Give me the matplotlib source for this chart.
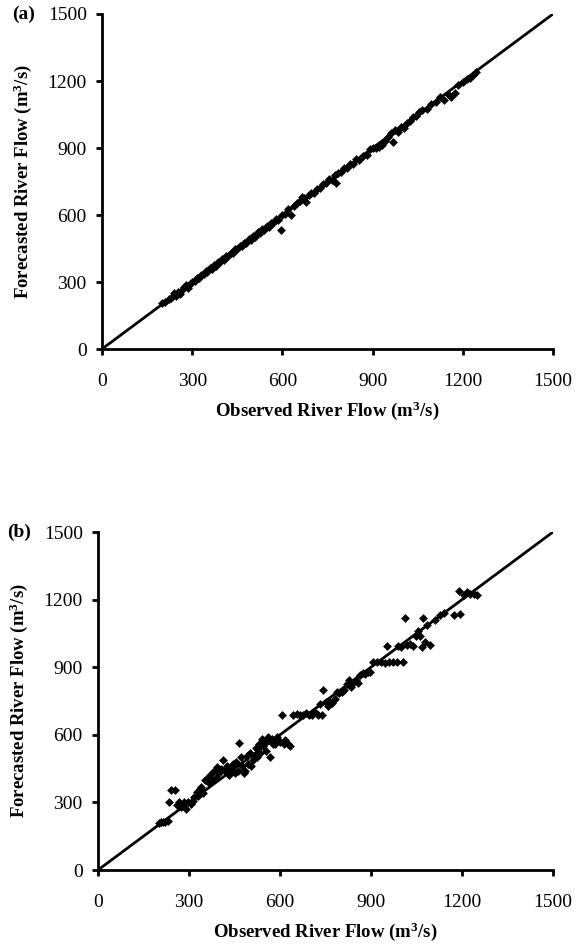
import matplotlib
matplotlib.use("Agg")
import matplotlib.pyplot as plt

plt.rcParams['font.family'] = ['Liberation Serif', 'DejaVu Serif']
plt.rcParams['mathtext.fontset'] = 'custom'
plt.rcParams['mathtext.rm'] = 'Liberation Serif'
plt.rcParams['mathtext.bf'] = 'Liberation Serif:bold'
plt.rcParams['mathtext.default'] = 'bf'

# panel (a): observed vs forecasted river flow (m3/s)
obs_a = [200, 210, 222, 230, 240, 245, 252, 258, 265, 272, 280, 285, 292, 300, 308, 315,
         322, 330, 338, 345, 350, 358, 365, 372, 378, 385, 392, 400, 405, 412, 420, 428,
         435, 442, 450, 458, 465, 472, 480, 488, 495, 502, 510, 518, 525, 532, 540, 548,
         555, 562, 570, 578, 585, 596, 600, 610, 620, 630, 640, 650, 660, 665, 672, 680,
         688, 695, 705, 715, 725, 735, 745, 755, 765, 775, 779, 785, 795, 805, 815, 825,
         835, 845, 855, 868, 880, 890, 900, 910, 920, 930, 940, 950, 960, 967, 975, 985,
         995, 1005, 1015, 1025, 1035, 1045, 1055, 1065, 1080, 1095, 1110, 1125, 1139, 1150,
         1162, 1175, 1185, 1200, 1215, 1225, 1234, 1245]
fc_a = [205, 212, 225, 228, 250, 238, 255, 245, 262, 278, 285, 272, 290, 298, 305, 318,
        320, 332, 335, 350, 346, 362, 360, 378, 372, 390, 388, 405, 398, 415, 418, 432,
        430, 446, 447, 460, 462, 476, 474, 492, 490, 505, 503, 522, 520, 536, 532, 552,
        548, 565, 564, 582, 578, 534, 602, 606, 625, 600, 640, 655, 662, 680, 675, 660,
        690, 698, 700, 718, 722, 740, 742, 760, 758, 780, 742, 788, 792, 810, 812, 830,
        828, 850, 848, 865, 870, 895, 902, 898, 905, 915, 932, 948, 965, 929, 980, 972,
        995, 990, 1012, 1020, 1040, 1042, 1060, 1068, 1075, 1098, 1105, 1128, 1115, 1140,
        1130, 1145, 1180, 1195, 1210, 1215, 1227, 1242]

# panel (b)
obs_b = [200, 208, 215, 222, 230, 234, 242, 253, 262, 268, 275, 282, 290, 298, 305, 312,
         318, 325, 330, 335, 340, 347, 352, 358, 365, 370, 375, 382, 388, 393, 398, 405,
         413, 418, 425, 432, 438, 445, 450, 455, 460, 464, 470, 475, 480, 485, 490, 495,
         500, 505, 510, 515, 520, 525, 530, 535, 540, 545, 550, 555, 560, 567, 572, 578,
         585, 590, 595, 600, 608, 612, 618, 625, 633, 644, 655, 665, 675, 685, 695, 705,
         715, 725, 732, 738, 743, 750, 758, 765, 772, 780, 787, 795, 805, 812, 820, 828,
         835, 842, 850, 858, 864, 872, 880, 890, 897, 908, 920, 932, 945, 952, 960, 972,
         985, 990, 1000, 1007, 1012, 1018, 1028, 1040, 1048, 1056, 1062, 1068, 1071, 1078,
         1084, 1095, 1110, 1128, 1140, 1175, 1194, 1191, 1205, 1216, 1228, 1240, 1249]
fc_b = [210, 212, 215, 212, 218, 303, 355, 355, 290, 300, 280, 300, 270, 300, 295, 305,
        325, 345, 330, 360, 370, 340, 400, 405, 385, 420, 400, 440, 410, 455, 430, 450,
        488, 440, 460, 420, 445, 470, 430, 480, 440, 562, 500, 460, 430, 440, 505, 470,
        520, 460, 490, 505, 540, 500, 560, 520, 580, 550, 570, 530, 590, 502, 580, 560,
        560, 590, 575, 570, 690, 560, 575, 560, 550, 690, 692, 688, 690, 695, 688, 690,
        700, 690, 735, 690, 798, 746, 730, 745, 740, 760, 790, 785, 790, 800, 825, 842,
        810, 830, 845, 830, 866, 875, 870, 880, 879, 924, 924, 922, 920, 995, 924, 925,
        924, 995, 990, 924, 1120, 1000, 1005, 995, 1040, 1060, 1040, 990, 1120, 1010,
        1086, 1000, 1110, 1133, 1140, 1131, 1135, 1239, 1220, 1235, 1225, 1225, 1220]

ticks = [0, 300, 600, 900, 1200, 1500]
panels = [("(a)", obs_a, fc_a, [102 / 576, 1 - 349 / 946, 451 / 576, 335 / 946]),
          ("(b)", obs_b, fc_b, [98 / 576, 1 - 870 / 946, 455 / 576, 338 / 946])]

fig = plt.figure(figsize=(5.76, 9.46), dpi=100)

for tag, obs, fc, rect in panels:
    ax = fig.add_axes(rect)
    ax.plot([0, 1500], [0, 1500], color='black', lw=2.0, zorder=2)
    ax.plot(obs, fc, 'D', color='black', markersize=4.2, markeredgewidth=0.4, zorder=3)
    ax.set_xlim(0, 1500)
    ax.set_ylim(0, 1500)
    ax.set_xticks(ticks)
    ax.set_yticks(ticks)
    for s in ['top', 'right']:
        ax.spines[s].set_visible(False)
    for s in ['left', 'bottom']:
        ax.spines[s].set_linewidth(2.0)
    ax.tick_params(direction='out', length=4, width=2.0, labelsize=14)
    ax.tick_params(axis='x', pad=13)
    ax.tick_params(axis='y', pad=7)
    ax.set_xlabel(r'Observed River Flow (m$^{3}$/s)', fontsize=13.5, fontweight='bold', labelpad=7)
    ax.set_ylabel(r'Forecasted River Flow (m$^{3}$/s)', fontsize=13.5, fontweight='bold', labelpad=10)
    ax.text(-0.2, 1.0, tag, transform=ax.transAxes, fontsize=14, fontweight='bold',
            ha='left', va='center')

fig.savefig("out.png", dpi=100)
